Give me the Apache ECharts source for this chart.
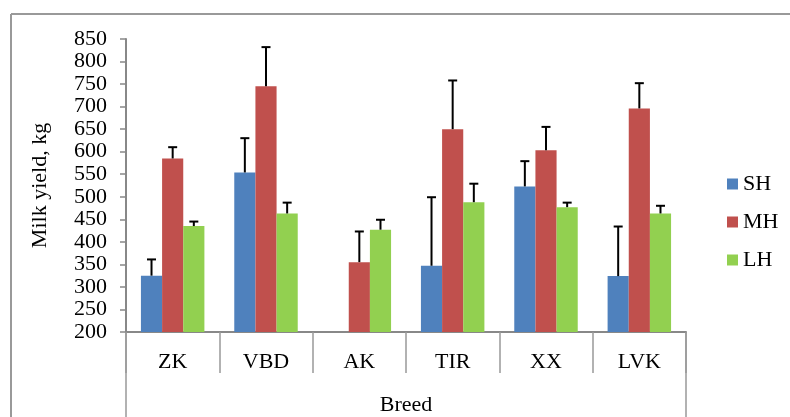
<!DOCTYPE html>
<html>
<head>
<meta charset="UTF-8">
<title>Milk yield by breed</title>
<script src="https://cdn.jsdelivr.net/npm/echarts@6/dist/echarts.min.js"></script>
<style>
body { margin: 0; padding: 0; background: #fff; }
#main { width: 790px; height: 417px; }
</style>
</head>
<body>
<div id="main"></div>
<script>
// data
var categories = ['ZK', 'VBD', 'AK', 'TIR', 'XX', 'LVK'];
var seriesNames = ['SH', 'MH', 'LH'];
var sh = [325, 554, null, 347, 523, 324];
var mh = [585, 745, 355, 650, 603, 696];
var lh = [435, 463, 427, 488, 477, 463];
// upper error amounts
var shErr = [36, 76, null, 152, 56, 110];
var mhErr = [25, 87, 68, 108, 52, 56];
var lhErr = [10, 24, 22, 41, 10, 17];

var colors = ['#4F81BD', '#C0504D', '#92D050'];
var font = '"Liberation Serif", "Times New Roman", serif';
var fs = 22;
var catGap = 0.32;

var chart = echarts.init(document.getElementById('main'));

function errData(vals, errs) {
    var out = [];
    for (var i = 0; i < vals.length; i++) {
        if (vals[i] == null || errs[i] == null) continue;
        out.push([i, vals[i], vals[i] + errs[i]]);
    }
    return out;
}

function errSeries(k, vals, errs) {
    return {
        name: seriesNames[k] + ' err',
        type: 'custom',
        z: 5,
        data: errData(vals, errs),
        encode: { x: 0, y: [1, 2] },
        renderItem: function (params, api) {
            var band = api.size([1, 0])[0];
            var barW = band * (1 - catGap) / 3;
            var off = (k - 1) * barW;
            var p0 = api.coord([api.value(0), api.value(1)]);
            var p1 = api.coord([api.value(0), api.value(2)]);
            var x = p0[0] + off;
            var cap = 4.5;
            var st = { stroke: '#000', lineWidth: 2 };
            return {
                type: 'group',
                children: [
                    { type: 'line', shape: { x1: x, y1: p0[1], x2: x, y2: p1[1] }, style: st },
                    { type: 'line', shape: { x1: x - cap, y1: p1[1], x2: x + cap, y2: p1[1] }, style: st }
                ]
            };
        }
    };
}

var barBase = { type: 'bar', barGap: 0, barCategoryGap: (catGap * 100) + '%' };

var option = {
    animation: false,
    textStyle: { fontFamily: font },
    grid: { left: 126, right: 104, top: 39, bottom: 85, outerBoundsMode: 'none', containLabel: false },
    legend: {
        data: seriesNames,
        orient: 'vertical',
        left: 722,
        top: 168,
        itemWidth: 11,
        itemHeight: 11,
        itemGap: 16,
        icon: 'rect',
        textStyle: { fontFamily: font, fontSize: fs, color: '#000' }
    },
    xAxis: {
        type: 'category',
        data: categories,
        name: 'Breed',
        nameLocation: 'middle',
        nameGap: 62,
        nameTextStyle: { fontFamily: font, fontSize: fs, color: '#000' },
        axisLine: { lineStyle: { color: '#888', width: 2 } },
        axisTick: { show: true, interval: 0, length: 41, lineStyle: { color: '#999', width: 1.5 } },
        axisLabel: { interval: 0, margin: 19, fontFamily: font, fontSize: fs, color: '#000' }
    },
    yAxis: {
        type: 'value',
        min: 200,
        max: 850,
        interval: 50,
        name: 'Milk yield, kg',
        nameLocation: 'middle',
        nameGap: 75,
        nameRotate: 90,
        nameTextStyle: { fontFamily: font, fontSize: fs, color: '#000' },
        splitLine: { show: false },
        axisLine: { show: true, lineStyle: { color: '#888', width: 2 } },
        axisTick: { show: true, length: 6, lineStyle: { color: '#888', width: 1.5 } },
        axisLabel: { margin: 19, fontFamily: font, fontSize: fs, color: '#000' }
    },
    series: [
        Object.assign({ name: 'SH', data: sh, itemStyle: { color: colors[0] } }, barBase),
        Object.assign({ name: 'MH', data: mh, itemStyle: { color: colors[1] } }, barBase),
        Object.assign({ name: 'LH', data: lh, itemStyle: { color: colors[2] } }, barBase),
        errSeries(0, sh, shErr),
        errSeries(1, mh, mhErr),
        errSeries(2, lh, lhErr)
    ]
};
chart.setOption(option);

// outer frame and the long outer dividers under the axis
var left = chart.convertToPixel({ xAxisIndex: 0 }, 0) - chart.getModel().getComponent('xAxis').axis.getBandWidth() / 2;
var right = 790 - 104;
var axisY = chart.convertToPixel({ yAxisIndex: 0 }, 200);
var gline = { stroke: '#999', lineWidth: 2 };
chart.setOption({
    graphic: [
        { type: 'line', shape: { x1: 11, y1: 14, x2: 790, y2: 14 }, style: gline },
        { type: 'line', shape: { x1: 11, y1: 14, x2: 11, y2: 417 }, style: gline },
        { type: 'line', shape: { x1: left, y1: axisY, x2: left, y2: 417 }, style: { stroke: '#999', lineWidth: 1.5 } },
        { type: 'line', shape: { x1: right, y1: axisY, x2: right, y2: 417 }, style: { stroke: '#999', lineWidth: 1.5 } }
    ]
});
</script>
</body>
</html>
